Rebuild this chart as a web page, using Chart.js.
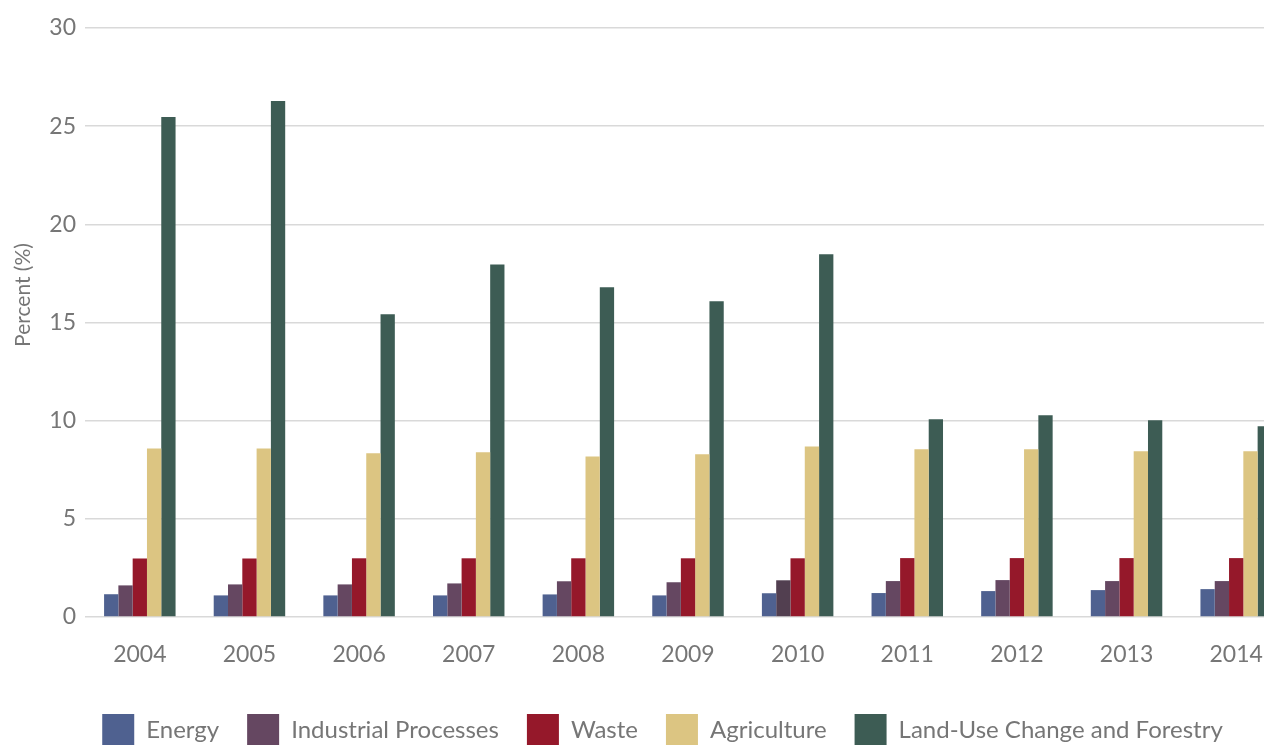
<!DOCTYPE html>
<html>
<head>
<meta charset="utf-8">
<script src="https://cdn.jsdelivr.net/npm/chart.js@4.4.1/dist/chart.umd.min.js"></script>
<style>
  html, body { margin: 0; padding: 0; background: #fff; overflow: hidden; }
  #wrap { position: relative; width: 1358px; height: 756px; }
</style>
</head>
<body>
<div id="wrap"><canvas id="c"></canvas></div>
<script>
// 年份
const years = ['2004', '2005', '2006', '2007', '2008', '2009', '2010', '2011', '2012', '2013', '2014'];
const seriesNames = ['Energy', 'Industrial Processes', 'Waste', 'Agriculture', 'Land-Use Change and Forestry'];

const energy     = [1.16, 1.10, 1.10, 1.10, 1.15, 1.10, 1.21, 1.22, 1.32, 1.37, 1.42];
const industrial = [1.61, 1.66, 1.66, 1.71, 1.82, 1.77, 1.87, 1.83, 1.88, 1.83, 1.83];
const waste      = [2.98, 2.98, 2.99, 2.99, 2.99, 2.99, 2.99, 3.00, 3.00, 3.00, 3.00];
const agriculture = [8.58, 8.58, 8.34, 8.39, 8.18, 8.29, 8.69, 8.54, 8.54, 8.44, 8.44];
const landUse    = [25.47, 26.28, 15.42, 17.96, 16.79, 16.08, 18.47, 10.07, 10.27, 10.02, 9.71];

const yTicks = [0, 5, 10, 15, 20, 25, 30];

const FONT = 'Lato, "Open Sans", sans-serif';
const TEXT = '#767676';

// 2010 的工业过程柱颜色偏深
const industrialColors = years.map(y => y === '2010' ? '#523f50' : '#654761');

// y 轴标题
const yTitle = {
    id: 'yTitle',
    afterDraw(chart) {
        const ctx = chart.ctx;
        ctx.save();
        ctx.translate(23, 295);
        ctx.rotate(-Math.PI / 2);
        ctx.font = '21px ' + FONT;
        ctx.fillStyle = TEXT;
        ctx.textAlign = 'center';
        ctx.textBaseline = 'middle';
        ctx.fillText('Percent (%)', 0, 0);
        ctx.restore();
    }
};

new Chart(document.getElementById('c'), {
    type: 'bar',
    data: {
        labels: years,
        datasets: [
            { label: seriesNames[0], data: energy, backgroundColor: '#4f6190' },
            { label: seriesNames[1], data: industrial, backgroundColor: industrialColors },
            { label: seriesNames[2], data: waste, backgroundColor: '#95182a' },
            { label: seriesNames[3], data: agriculture, backgroundColor: '#dcc582' },
            { label: seriesNames[4], data: landUse, backgroundColor: '#3d5c54' },
        ].map(d => Object.assign(d, { borderWidth: 0, barPercentage: 1, categoryPercentage: 0.652 }))
    },
    plugins: [yTitle],
    options: {
        responsive: true,
        maintainAspectRatio: false,
        animation: false,
        layout: { padding: { left: 34, right: 67, top: 28, bottom: 0 } },
        plugins: {
            tooltip: { enabled: false },
            legend: {
                position: 'bottom',
                labels: {
                    boxWidth: 32, boxHeight: 32, padding: 28,
                    color: TEXT, font: { family: FONT, size: 24 }
                }
            }
        },
        scales: {
            x: {
                grid: { display: false },
                border: { display: false },
                ticks: { color: TEXT, font: { family: FONT, size: 23 }, padding: 16, maxRotation: 0 },
                afterFit(s) { s.height = 69; }
            },
            y: {
                min: 0, max: 30,
                afterBuildTicks(s) { s.ticks = yTicks.map(v => ({ value: v })); },
                afterFit(s) { s.width = 51; },
                grid: { color: '#d9d9d9', lineWidth: 1.5, drawTicks: false },
                border: { display: false },
                ticks: { color: TEXT, font: { family: FONT, size: 23 }, padding: 9 }
            }
        }
    }
});
</script>
</body>
</html>
